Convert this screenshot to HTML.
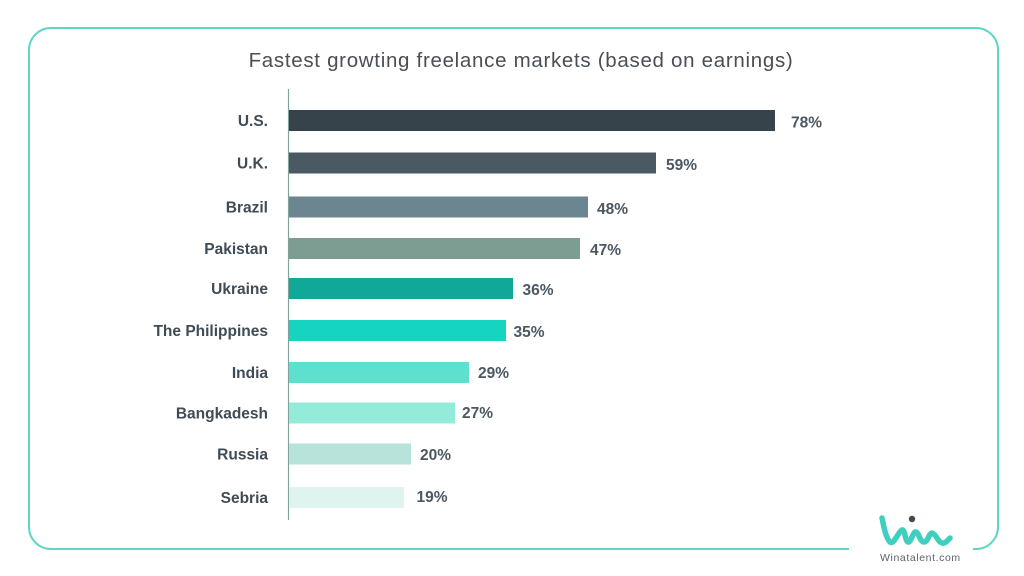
<!DOCTYPE html>
<html>
<head>
<meta charset="utf-8">
<style>
  html,body{margin:0;padding:0;background:#ffffff;}
  body{width:1024px;height:576px;overflow:hidden;}
  svg{display:block;}
  .lbl{font-family:"Liberation Sans",sans-serif;font-weight:bold;font-size:15.5px;fill:#3f4b55;}
  .val{font-family:"Liberation Sans",sans-serif;font-weight:bold;font-size:15.5px;fill:#4b5761;}
</style>
</head>
<body>
<svg width="1024" height="576" viewBox="0 0 1024 576" xmlns="http://www.w3.org/2000/svg">
  <rect x="0" y="0" width="1024" height="576" fill="#ffffff"/>
  <!-- frame -->
  <path d="M849,549 H51 A22,22 0 0 1 29,527 V50 A22,22 0 0 1 51,28 H976 A22,22 0 0 1 998,50 V527 A22,22 0 0 1 976,549 H973" fill="none" stroke="#5dd6c6" stroke-width="2"/>
  <!-- title -->
  <text x="521" y="67" text-anchor="middle" font-family="'Liberation Sans',sans-serif" font-size="20.5" letter-spacing="0.7" fill="#4a4f55">Fastest growting freelance markets (based on earnings)</text>
  <!-- axis -->
  <line x1="288.5" y1="89" x2="288.5" y2="520" stroke="#7fa39a" stroke-width="1.2"/>
  <!-- bars -->
  <rect x="289" y="110" width="486" height="21" fill="#36434a"/>
  <rect x="289" y="152.5" width="367" height="21" fill="#4a5a63"/>
  <rect x="289" y="196.5" width="299" height="21" fill="#6b8591"/>
  <rect x="289" y="238" width="291" height="21" fill="#7d9c92"/>
  <rect x="289" y="278" width="224" height="21" fill="#12a897"/>
  <rect x="289" y="320" width="217" height="21" fill="#15d5c1"/>
  <rect x="289" y="362" width="180" height="21" fill="#5ee0cf"/>
  <rect x="289" y="402.5" width="166" height="21" fill="#93ebda"/>
  <rect x="289" y="443.5" width="122" height="21" fill="#b7e3da"/>
  <rect x="289" y="487" width="115" height="21" fill="#dff3ef"/>
  <!-- category labels -->
  <text class="lbl" x="268" y="126" text-anchor="end">U.S.</text>
  <text class="lbl" x="268" y="168.5" text-anchor="end">U.K.</text>
  <text class="lbl" x="268" y="212.5" text-anchor="end">Brazil</text>
  <text class="lbl" x="268" y="254" text-anchor="end">Pakistan</text>
  <text class="lbl" x="268" y="294" text-anchor="end">Ukraine</text>
  <text class="lbl" x="268" y="336" text-anchor="end">The Philippines</text>
  <text class="lbl" x="268" y="378" text-anchor="end">India</text>
  <text class="lbl" x="268" y="418.5" text-anchor="end">Bangkadesh</text>
  <text class="lbl" x="268" y="459.5" text-anchor="end">Russia</text>
  <text class="lbl" x="268" y="503" text-anchor="end">Sebria</text>
  <!-- value labels -->
  <text class="val" x="791" y="127.5">78%</text>
  <text class="val" x="666" y="170">59%</text>
  <text class="val" x="597" y="214">48%</text>
  <text class="val" x="590" y="255">47%</text>
  <text class="val" x="522.5" y="295">36%</text>
  <text class="val" x="513.5" y="337">35%</text>
  <text class="val" x="478" y="378">29%</text>
  <text class="val" x="462" y="418">27%</text>
  <text class="val" x="420" y="460">20%</text>
  <text class="val" x="416.5" y="502">19%</text>
  <!-- logo -->
  <path d="M882,518 C884,528 886,538 890,542 C894,545 898,532 902,530 C905,529 905,541 908,542 C911,543 913,531 916,532 C919,533 920,542 924,542 C928,542 929,533 932,533 C936,534 938,542 942,543 C945,544 947,541 950,538"
        fill="none" stroke="#3fcfbe" stroke-width="5.5" stroke-linecap="round" stroke-linejoin="round"/>
  <circle cx="912" cy="519" r="3.2" fill="#3d4a52"/>
  <text x="880" y="561" font-family="'Liberation Sans',sans-serif" font-size="10.5" letter-spacing="0.6" fill="#59646c">Winatalent.com</text>
</svg>
</body>
</html>
